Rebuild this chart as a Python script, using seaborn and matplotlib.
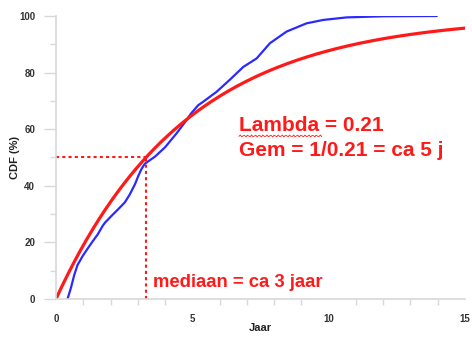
import numpy as np
import pandas as pd
import matplotlib
matplotlib.use("Agg")
import matplotlib.pyplot as plt
import seaborn as sns
from matplotlib.ticker import MultipleLocator

jaar_emp = [0.43, 0.55, 0.67, 0.79, 0.98, 1.16, 1.34, 1.53, 1.71, 1.8, 2.04, 2.29,
            2.53, 2.71, 2.9, 3.02, 3.14, 3.26, 3.45, 3.63, 4.0, 4.42, 4.79, 4.95,
            5.22, 5.4, 5.89, 6.38, 6.87, 7.36, 7.85, 8.46, 9.19, 9.8, 10.66, 12.0, 13.97]
cdf_emp = [0.2, 4.0, 8.5, 12.0, 15.2, 17.8, 20.3, 22.8, 25.8, 27.0, 29.4, 31.8,
           34.2, 37.0, 40.6, 43.5, 46.0, 47.8, 49.1, 50.3, 53.6, 58.5, 63.2, 65.5,
           68.5, 69.7, 73.2, 77.5, 82, 85, 90.4, 94.5, 97.4, 98.6, 99.5, 99.9, 100]

# exponential fit
lam = 0.21
jaar_fit = np.linspace(0, 15, 200)
cdf_fit = (1 - np.exp(-lam * jaar_fit)) * 100
mediaan = np.log(2) / lam

x_ticks = [0, 5, 10, 15]
y_ticks = [0, 20, 40, 60, 80, 100]

rood = "#ff1a1a"

sns.set_style("white")
plt.rcParams['font.family'] = ['Liberation Sans', 'DejaVu Sans']

fig = plt.figure(figsize=(4.72, 3.38), dpi=100)
ax = fig.add_axes([0.1186, 0.1154, 0.8664, 0.8373])

emp = pd.DataFrame({"Jaar": jaar_emp, "CDF": cdf_emp})
fit = pd.DataFrame({"Jaar": jaar_fit, "CDF": cdf_fit})
sns.lineplot(data=emp, x="Jaar", y="CDF", color="#2a2aff", lw=1.6, ax=ax)
sns.lineplot(data=fit, x="Jaar", y="CDF", color=rood, lw=2.3, ax=ax)

ax.plot([0, mediaan], [50, 50], color=rood, lw=1.5, ls=(0, (1.5, 1.5)))
ax.plot([mediaan, mediaan], [0, 50], color=rood, lw=1.5, ls=(0, (1.5, 1.5)))

ax.text(6.71, 59.4, "Lambda = 0.21", color=rood, fontsize=15, fontweight="bold",
        va="baseline")
ax.text(6.71, 50.5, "Gem = 1/0.21 = ca 5 j", color=rood, fontsize=15, fontweight="bold",
        va="baseline")
ax.text(3.56, 4.3, "mediaan = ca 3 jaar", color=rood, fontsize=13.3, fontweight="bold",
        va="baseline")

# wavy spell-check underline under "Lambda"
golf_x = np.linspace(6.71, 9.75, 60)
ax.plot(golf_x, 57.6 + 0.35 * np.sin(golf_x * 2 * np.pi / 0.14), color=rood, lw=0.6)

ax.set_xlim(0, 15)
ax.set_ylim(0, 100)
ax.set_xticks(x_ticks)
ax.set_yticks(y_ticks)
ax.xaxis.set_minor_locator(MultipleLocator(1))
ax.yaxis.set_minor_locator(MultipleLocator(10))
ax.tick_params(axis="both", which="both", bottom=True, left=True, direction="out",
               color="#d8d8d8", width=1)
ax.tick_params(axis="y", which="major", length=9, labelsize=7, labelcolor="#333333", pad=6)
ax.tick_params(axis="y", which="minor", length=4)
ax.tick_params(axis="x", which="major", length=0, pad=11, labelsize=7, labelcolor="#333333")
ax.tick_params(axis="x", which="minor", length=4)
for lab in ax.get_xticklabels() + ax.get_yticklabels():
    lab.set_fontweight("bold")

for side in ["top", "right"]:
    ax.spines[side].set_visible(False)
for side in ["left", "bottom"]:
    ax.spines[side].set_color("#d8d8d8")
    ax.spines[side].set_linewidth(1.2)

ax.set_xlabel("Jaar", fontsize=8, fontweight="bold", color="#222222")
ax.set_ylabel("CDF (%)", fontsize=8, fontweight="bold", color="#222222")
ax.xaxis.set_label_coords(0.5, -0.085)
ax.yaxis.set_label_coords(-0.088, 0.5)

fig.savefig("out.png", dpi=100)
